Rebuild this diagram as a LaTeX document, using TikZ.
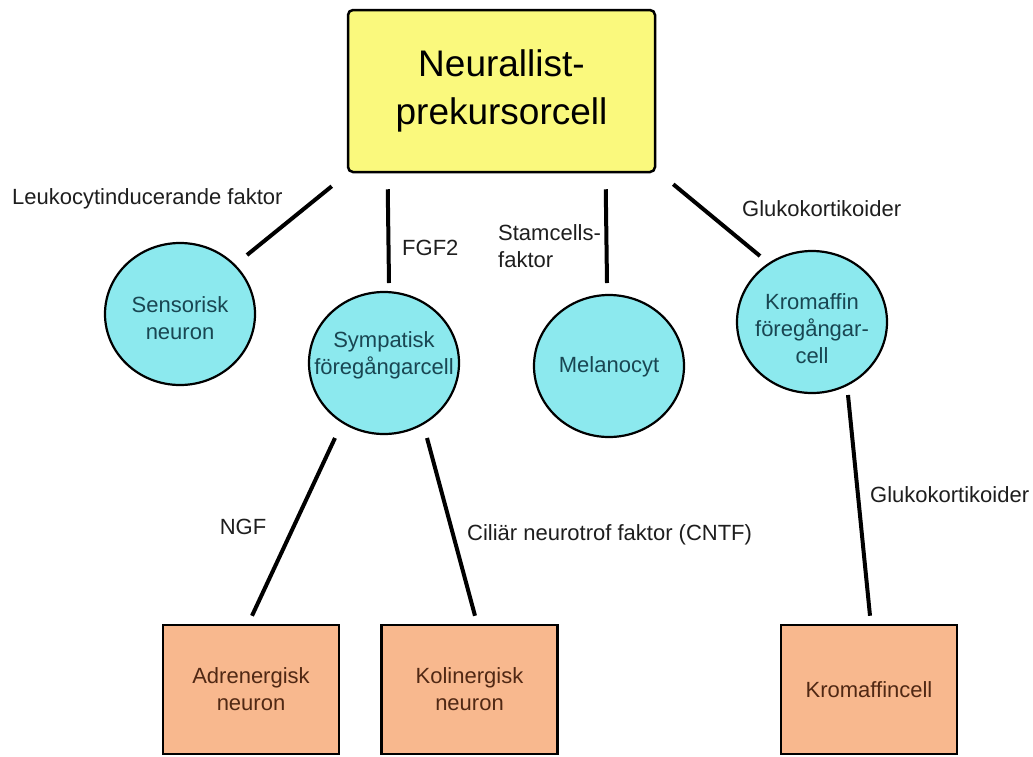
\documentclass[tikz,border=0pt]{standalone}
\usepackage{fontspec}
\setmainfont{Liberation Sans}
\usetikzlibrary{shapes.geometric,calc}
\definecolor{titlefill}{RGB}{250,249,125}
\definecolor{cellfill}{RGB}{140,233,238}
\definecolor{boxfill}{RGB}{248,184,142}
\definecolor{celltext}{RGB}{25,70,82}
\definecolor{boxtext}{RGB}{80,40,20}
\definecolor{labeltext}{RGB}{30,30,30}
\begin{document}
\begin{tikzpicture}[x=1pt,y=-1pt,
 titlebox/.style={draw=black, line width=2.5pt, fill=titlefill, rounded corners=5pt, minimum width=307pt, minimum height=162pt, inner sep=0pt, align=center, font=\fontsize{37}{48}\selectfont},
 cell/.style={ellipse, draw=black, line width=2.2pt, fill=cellfill, minimum width=150pt, minimum height=142pt, inner sep=0pt},
 celltxt/.style={inner sep=0pt, align=center, text=celltext, font=\fontsize{22}{27}\selectfont},
 endbox/.style={draw=black, line width=2.5pt, fill=boxfill, minimum width=176pt, minimum height=129pt, inner sep=0pt, align=center, text=boxtext, font=\fontsize{22}{27}\selectfont},
 factor/.style={inner sep=0pt, text=labeltext, align=left, font=\fontsize{22}{27}\selectfont},
 link/.style={line width=4pt}]
\fill[white] (0,0) rectangle (1033,756);
\useasboundingbox (0,0) rectangle (1033,756);

% nodes
\node[titlebox] (top) at (501.5,91) {Neurallist-\\prekursorcell};
\node[cell] (sens) at (180,314) {};
\node[celltxt] (sens-t) at (180,318) {Sensorisk\\neuron};
\node[cell] (symp) at (384,363) {};
\node[celltxt] (symp-t) at (384,355) {Sympatisk\\föregångarcell};
\node[cell] (mel) at (609,366) {};
\node[celltxt] (mel-t) at (609,367) {Melanocyt};
\node[cell] (krom) at (812,322) {};
\node[celltxt] (krom-t) at (812,329) {Kromaffin\\föregångar-\\cell};
\node[endbox] (adr) at (251,689.5) {Adrenergisk\\neuron};
\node[endbox] (kol) at (469.5,689.5) {Kolinergisk\\neuron};
\node[endbox] (kcell) at (869,689.5) {Kromaffincell};

% connectors
\draw[link] ($(top.south west)+(-15,13)$) -- ($(sens)+(67,-59)$);
\draw[link] ($(top.south west)+(41,16)$) -- ($(symp)+(5,-80)$);
\draw[link] ($(top.south west)+(259,16)$) -- ($(mel)+(-2,-83)$);
\draw[link] ($(top.south east)+(17,11)$) -- ($(krom)+(-52,-66)$);
\draw[link] ($(symp)+(-49,75)$) -- ($(adr.north)+(1,-8)$);
\draw[link] ($(symp)+(43,75)$) -- ($(kol.north)+(5.5,-8)$);
\draw[link] ($(krom)+(36,73)$) -- ($(kcell.north)+(1,-8)$);

% labels
\node[factor, anchor=west] (lif) at (12,199) {Leukocytinducerande faktor};
\node[factor, anchor=west] (fgf) at (402,248) {FGF2};
\node[factor, anchor=west] (scf) at (498,246) {Stamcells-\\faktor};
\node[factor, anchor=west] (gk1) at (742,209) {Glukokortikoider};
\node[factor] (ngf) at (243,527) {NGF};
\node[factor, anchor=west] (cntf) at (467,535) {Ciliär neurotrof faktor (CNTF)};
\node[factor, anchor=west] (gk2) at (870,495) {Glukokortikoider};
\end{tikzpicture}
\end{document}
